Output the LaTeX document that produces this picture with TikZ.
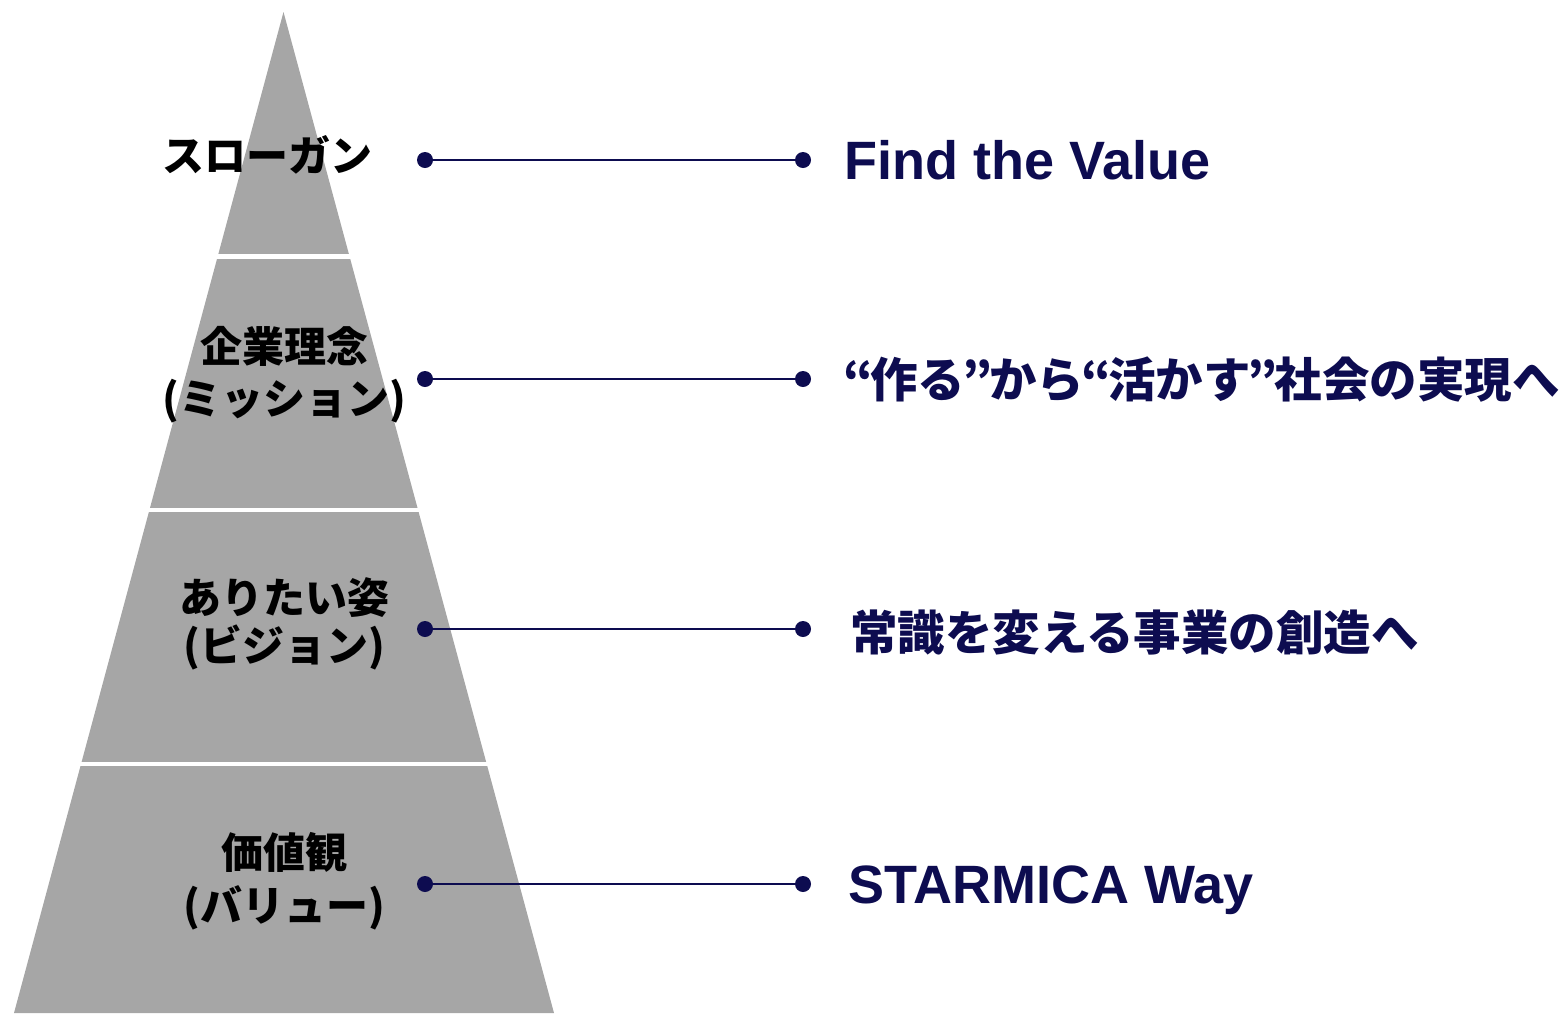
\documentclass[tikz,border=0pt]{standalone}
\usepackage{fontspec}
\newfontfamily\jp{Noto Sans CJK JP}
\newfontfamily\jpq{Noto Sans CJK JP}[RawFeature=+pwid]
\newfontfamily\lat{Liberation Sans}
\newcommand\qbox[1]{\makebox[24pt][c]{\jpq\bfseries #1}}
\definecolor{navy}{HTML}{0D0C50}
\definecolor{pyr}{HTML}{A6A6A6}
\begin{document}
\begin{tikzpicture}[x=1pt,y=-1pt,
  lab/.style={inner sep=0pt,anchor=base,font=\jp\bfseries\fontsize{42}{50}\selectfont,text=black},
  rtxt/.style={inner sep=0pt,anchor=base west,font=\jp\bfseries\fontsize{47.5}{56}\selectfont,text=navy},
  etxt/.style={inner sep=0pt,anchor=base west,font=\lat\bfseries\fontsize{54}{60}\selectfont,text=navy},
  dot/.style={circle,fill=navy,inner sep=0pt,minimum size=16pt},
  conn/.style={draw=navy,line width=2.5pt},
  sep/.style={draw=white,line width=4.5pt}]
\useasboundingbox (0,0) rectangle (1563,1013);
% pyramid
\fill[pyr] (283.5,12) -- (14,1013) -- (554,1013) -- cycle;
\draw[sep] (150,256.5) -- (420,256.5);
\draw[sep] (100,510) -- (470,510);
\draw[sep] (40,764) -- (530,764);
% left labels
\node[lab] (l1) at (267,171) {スローガン};
\node[lab] (l2a) at (284,362) {企業理念};
\node[lab] (l2b) at (284,414) {(ミッション)};
\node[lab] (l3a) at (284,613) {ありたい姿};
\node[lab] (l3b) at (284,661) {(ビジョン)};
\node[lab] (l4a) at (284,868) {価値観};
\node[lab] (l4b) at (284,921) {(バリュー)};
% connectors
\foreach \i/\y in {1/160,2/379,3/629,4/884}{
  \node[dot] (a\i) at (425,\y) {};
  \node[dot] (b\i) at (803,\y) {};
  \draw[conn] (a\i.center) -- (b\i.center);
}
% right texts
\node[etxt] (r1) at (844,179) {Find the Value};
\node[rtxt] (r2) at (846,397) {\qbox{“}作る\qbox{”}から\qbox{“}活かす\qbox{”}社会の実現へ};
\node[rtxt] (r3) at (850,650) {常識を変える事業の創造へ};
\node[etxt] (r4) at (848,903) {STARMICA Way};
\end{tikzpicture}
\end{document}
